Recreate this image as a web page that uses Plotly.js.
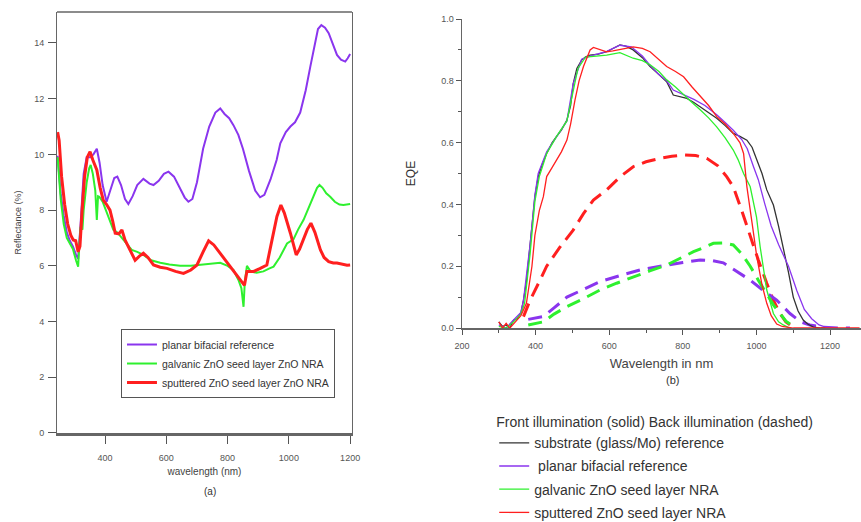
<!DOCTYPE html>
<html>
<head>
<meta charset="utf-8">
<script src="https://cdn.plot.ly/plotly-3.0.1.min.js"></script>
<style>html,body{margin:0;padding:0;background:#fff}#chart{width:861px;height:522px}</style>
</head>
<body>
<div id="chart"></div>
<script>
// ---- Panel (a): Reflectance ----
const reflPlanarX = [245,255,265,275,285,295,305,312,320,330,340,352,362,373,382,392,405,418,430,440,452,465,476,490,505,525,545,558,575,592,607,625,645,660,672,685,700,720,740,760,776,790,805,819,835,850,870,890,906,920,940,960,972,990,1005,1020,1037,1055,1070,1085,1095,1106,1118,1130,1145,1157,1170,1184,1192,1200];
const reflPlanarY = [9.95,8.6,7.8,7.2,6.9,6.7,6.4,6.25,7.5,9.3,9.9,9.9,10.0,10.2,9.7,8.9,8.3,8.7,9.15,9.2,8.9,8.4,8.22,8.5,8.9,9.12,8.95,8.9,9.05,9.3,9.38,9.2,8.8,8.45,8.3,8.4,9.0,10.2,11.0,11.5,11.65,11.45,11.3,11.05,10.7,10.2,9.4,8.7,8.46,8.55,9.1,9.8,10.4,10.8,11.0,11.15,11.5,12.3,13.15,14.0,14.5,14.64,14.55,14.35,13.9,13.57,13.4,13.33,13.45,13.6];

const reflGalvX = [245,255,265,275,285,295,305,312,316,320,326,330,340,348,353,360,368,373,377,381,392,405,418,427,440,455,470,487,505,525,550,580,610,645,680,710,740,776,800,819,835,845,852,856,863,875,895,917,935,950,970,994,1015,1030,1048,1065,1080,1092,1100,1110,1122,1135,1150,1165,1178,1190,1200];
const reflGalvY = [9.9,8.4,7.5,7.0,6.8,6.6,6.2,5.97,6.8,7.4,7.3,8.0,9.0,9.5,9.62,9.3,8.7,7.65,8.5,8.48,8.3,7.9,7.5,7.29,7.2,7.0,6.8,6.57,6.5,6.39,6.2,6.11,6.05,6.0,6.0,6.03,6.05,6.11,6.0,5.85,5.5,5.2,4.53,5.4,6.0,5.8,5.75,5.8,5.9,5.97,6.3,6.8,6.95,7.3,7.65,8.1,8.5,8.8,8.9,8.8,8.6,8.48,8.3,8.2,8.18,8.2,8.22];

const reflSputX = [245,250,258,268,278,288,296,304,312,318,325,333,342,351,360,373,384,394,405,416,425,433,445,455,465,482,498,512,525,540,558,580,602,630,656,680,700,720,738,755,776,800,819,835,847,855,863,885,905,928,945,961,974,985,1005,1015,1024,1035,1048,1060,1072,1085,1103,1115,1130,1145,1157,1175,1190,1200];
const reflSputY = [10.8,10.5,9.2,8.2,7.5,7.1,6.93,6.9,6.5,6.7,8.0,9.2,9.9,10.1,9.8,9.44,8.8,8.36,8.2,8.0,7.6,7.17,7.15,7.29,6.93,6.57,6.2,6.35,6.45,6.3,6.03,5.95,5.91,5.8,5.73,5.85,6.03,6.5,6.9,6.75,6.45,6.1,5.85,5.6,5.43,5.3,5.8,5.8,5.9,6.03,6.93,7.77,8.18,7.9,7.17,6.7,6.39,6.6,6.93,7.3,7.53,7.2,6.57,6.3,6.15,6.1,6.1,6.05,6.02,6.03];

const reflNames = ['planar bifacial reference','galvanic ZnO seed layer ZnO NRA','sputtered ZnO seed layer ZnO NRA'];

// ---- Panel (b): EQE ----
const eqeSubX = [300,310,320,330,340,350,360,367,375,385,398,407,418,430,445,457,470,485,495,502,512,525,536,548,570,593,610,629,645,665,690,711,735,756,774,790,811,830,847,870,892,915,937,955,974,988,1001,1015,1028,1046,1060,1073,1087,1100,1113,1127,1140,1155,1175,1200];
const eqeSubY = [0.02,0.005,0.01,0.0,0.026,0.03,0.05,0.09,0.15,0.26,0.425,0.49,0.53,0.565,0.60,0.62,0.64,0.673,0.72,0.79,0.84,0.867,0.878,0.883,0.886,0.894,0.905,0.916,0.912,0.9,0.875,0.846,0.82,0.797,0.754,0.75,0.743,0.73,0.716,0.70,0.679,0.655,0.63,0.62,0.608,0.585,0.544,0.5,0.447,0.398,0.33,0.263,0.18,0.10,0.055,0.026,0.012,0.003,0.0,0.0];

const eqePlanarX = [300,320,340,360,367,385,398,407,430,457,485,502,525,548,593,629,660,690,711,735,756,774,800,830,860,892,915,937,960,975,992,1005,1023,1040,1060,1087,1110,1130,1150,1170,1190,1210];
const eqePlanarY = [0.01,0.0,0.026,0.05,0.09,0.27,0.43,0.5,0.57,0.62,0.67,0.79,0.87,0.88,0.895,0.915,0.91,0.88,0.85,0.82,0.8,0.77,0.755,0.74,0.72,0.69,0.665,0.64,0.61,0.58,0.522,0.48,0.40,0.33,0.27,0.2,0.12,0.06,0.03,0.01,0.002,0.0];

const eqeGalvX = [300,320,340,360,370,385,398,410,430,457,485,500,515,536,560,593,629,665,690,711,735,756,780,802,825,847,870,892,915,937,950,965,983,1000,1010,1028,1046,1060,1073,1090];
const eqeGalvY = [0.005,0.0,0.02,0.045,0.08,0.24,0.41,0.49,0.565,0.62,0.67,0.75,0.84,0.877,0.88,0.883,0.891,0.873,0.865,0.852,0.83,0.803,0.78,0.754,0.73,0.706,0.68,0.651,0.615,0.576,0.545,0.5,0.457,0.36,0.263,0.123,0.047,0.02,0.01,0.0];

const eqeSputX = [300,310,320,330,345,360,375,390,398,410,421,430,445,457,470,485,495,507,518,530,540,548,557,566,580,593,610,629,645,665,690,711,735,756,780,802,825,847,870,892,915,937,955,965,974,988,1001,1015,1028,1040,1055,1070,1100,1150,1200,1250,1280];
const eqeSputY = [0.02,0.0,0.015,0.0,0.02,0.04,0.08,0.2,0.3,0.38,0.425,0.49,0.52,0.544,0.57,0.608,0.66,0.738,0.8,0.846,0.88,0.9,0.908,0.905,0.898,0.894,0.897,0.9,0.905,0.91,0.905,0.894,0.87,0.846,0.83,0.813,0.78,0.749,0.72,0.684,0.66,0.63,0.6,0.565,0.457,0.34,0.23,0.14,0.08,0.04,0.013,0.005,0.0,0.0,0.0,0.0,0.0];

const backSputX = [367,385,410,430,465,502,530,557,593,630,665,700,738,770,802,835,865,895,919,937,960,983,1005,1028,1046,1064,1080,1091];
const backSputY = [0.037,0.09,0.15,0.2,0.26,0.317,0.37,0.414,0.447,0.49,0.522,0.538,0.549,0.556,0.56,0.558,0.549,0.525,0.49,0.457,0.38,0.295,0.22,0.145,0.09,0.047,0.02,0.01];

const backPlanarX = [380,421,450,485,530,575,630,684,720,756,800,847,880,910,945,983,1020,1055,1091,1120,1145,1180,1220,1254];
const backPlanarY = [0.028,0.037,0.065,0.10,0.125,0.15,0.17,0.188,0.196,0.204,0.212,0.22,0.218,0.211,0.185,0.155,0.12,0.09,0.047,0.02,0.01,0.003,0.0,0.0];

const backGalvX = [380,421,450,485,530,575,620,665,710,756,790,829,860,883,910,937,960,983,1005,1028,1046,1064,1080,1091];
const backGalvY = [0.01,0.02,0.045,0.069,0.095,0.123,0.145,0.166,0.185,0.204,0.225,0.247,0.262,0.274,0.275,0.269,0.24,0.2,0.155,0.112,0.075,0.047,0.022,0.013];

const eqeNames = ['substrate (glass/Mo) reference',' planar bifacial reference','galvanic ZnO seed layer NRA','sputtered ZnO seed layer NRA'];

const C_PURPLE = '#8a35ee', C_GREEN = '#2ef02e', C_RED = '#ff1f1f', C_BLACK = '#333333';
const FONT = 'Liberation Sans, Arial, sans-serif';
const dashPat = '14px,8px';

const traces = [
  {x: reflPlanarX, y: reflPlanarY, name: reflNames[0], xaxis:'x', yaxis:'y', mode:'lines', line:{color:C_PURPLE, width:2}, legend:'legend', legendgroup:'a'},
  {x: reflGalvX, y: reflGalvY, name: reflNames[1], xaxis:'x', yaxis:'y', mode:'lines', line:{color:C_GREEN, width:2}, legend:'legend', legendgroup:'b'},
  {x: reflSputX, y: reflSputY, name: reflNames[2], xaxis:'x', yaxis:'y', mode:'lines', line:{color:C_RED, width:3}, legend:'legend', legendgroup:'b'},

  {x: backSputX, y: backSputY, xaxis:'x2', yaxis:'y2', mode:'lines', line:{color:C_RED, width:3, dash:dashPat}, showlegend:false},
  {x: backPlanarX, y: backPlanarY, xaxis:'x2', yaxis:'y2', mode:'lines', line:{color:C_PURPLE, width:3, dash:dashPat}, showlegend:false},
  {x: backGalvX, y: backGalvY, xaxis:'x2', yaxis:'y2', mode:'lines', line:{color:C_GREEN, width:3, dash:dashPat}, showlegend:false},

  {x: eqeSubX, y: eqeSubY, name: eqeNames[0], xaxis:'x2', yaxis:'y2', mode:'lines', line:{color:C_BLACK, width:1.3}, legend:'legend2', legendgroup:'s1'},
  {x: eqePlanarX, y: eqePlanarY, name: eqeNames[1], xaxis:'x2', yaxis:'y2', mode:'lines', line:{color:C_PURPLE, width:1.3}, legend:'legend2', legendgroup:'s2'},
  {x: eqeGalvX, y: eqeGalvY, name: eqeNames[2], xaxis:'x2', yaxis:'y2', mode:'lines', line:{color:C_GREEN, width:1.3}, legend:'legend2', legendgroup:'s3'},
  {x: eqeSputX, y: eqeSputY, name: eqeNames[3], xaxis:'x2', yaxis:'y2', mode:'lines', line:{color:C_RED, width:1.3}, legend:'legend2', legendgroup:'s4'}
];

const tickFont = {family: FONT, size: 9, color: '#555'};

const layout = {
  width: 861, height: 522,
  margin: {l:0, r:0, t:0, b:0, autoexpand: false},
  paper_bgcolor: '#fff', plot_bgcolor: '#fff',
  font: {family: FONT, color: '#333'},
  xaxis: {
    domain: [0.0662, 0.4088], range: [243, 1206], anchor: 'y',
    tickvals: [400,600,800,1000,1200], ticks: 'outside', ticklen: 8, tickcolor: '#555',
    ticklabelstandoff: 6,
    showgrid: false, zeroline: false, showline: true, mirror: false, linecolor: '#666', linewidth: 3,
    tickfont: tickFont,
    title: {text: 'wavelength (nm)', font: {family: FONT, size: 10, color: '#444'}, standoff: 7}
  },
  yaxis: {
    domain: [0.1705, 0.977], range: [0, 15.11], anchor: 'x',
    tickvals: [0,2,4,6,8,10,12,14], ticks: 'outside', ticklen: 8, tickcolor: '#555',
    ticklabelstandoff: 2,
    showgrid: false, zeroline: false, showline: true, mirror: true, linecolor: '#666', linewidth: 1,
    tickfont: tickFont,
    title: {text: 'Reflectance (%)', font: {family: FONT, size: 9, color: '#444'}, standoff: 11}
  },
  xaxis2: {
    domain: [0.5366, 1], range: [200, 1284], anchor: 'y2',
    tickvals: [200,400,600,800,1000,1200], ticks: 'outside', ticklen: 5, tickcolor: '#555',
    ticklabelstandoff: 3,
    minor: {dtick: 100, ticks: 'outside', ticklen: 3, tickcolor: '#555'},
    showgrid: false, zeroline: false, showline: true, linecolor: '#666', linewidth: 2,
    tickfont: tickFont,
    title: {text: 'Wavelength in nm', font: {family: FONT, size: 13, color: '#444'}, standoff: 9}
  },
  yaxis2: {
    domain: [0.3716, 0.9636], range: [0, 1], anchor: 'x2',
    tickvals: [0,0.2,0.4,0.6,0.8,1.0], tickformat: '.1f', ticks: 'outside', ticklen: 5, tickcolor: '#555',
    minor: {dtick: 0.1, ticks: 'outside', ticklen: 3, tickcolor: '#555'},
    showgrid: false, zeroline: false, showline: true, mirror: true, linecolor: '#666', linewidth: 1.5,
    tickfont: tickFont,
    title: {text: 'EQE', font: {family: FONT, size: 12, color: '#333'}, standoff: 23}
  },
  shapes: [
    {type: 'line', xref: 'x domain', yref: 'y domain', x0: 0, x1: 1, y0: 1, y1: 1, line: {color: '#666', width: 1.5}}
  ],
  legend: {
    x: 0.1405, y: 0.3697, xanchor: 'left', yanchor: 'top',
    bgcolor: '#fff', bordercolor: '#555', borderwidth: 1,
    font: {family: FONT, size: 10.5, color: '#333'},
    traceorder: 'grouped', tracegroupgap: 0, itemwidth: 30
  },
  legend2: {
    x: 0.574, y: 1 - 409/522, xanchor: 'left', yanchor: 'top',
    bgcolor: 'rgba(0,0,0,0)', borderwidth: 0,
    font: {family: FONT, size: 14, color: '#333'},
    title: {text: 'Front illumination (solid) Back illumination (dashed)', font: {family: FONT, size: 14, color: '#333'}},
    traceorder: 'grouped', tracegroupgap: 2, itemwidth: 30
  },
  annotations: [
    {text: '(a)', xref: 'paper', yref: 'paper', x: 210/861, y: 1-491/522, yanchor: 'middle', xanchor: 'center', showarrow: false, font: {family: FONT, size: 10, color: '#333'}},
    {text: '(b)', xref: 'paper', yref: 'paper', x: 672/861, y: 1-380/522, yanchor: 'middle', xanchor: 'center', showarrow: false, font: {family: FONT, size: 11, color: '#333'}}
  ],
  showlegend: true
};

Plotly.newPlot('chart', traces, layout, {displayModeBar: false, staticPlot: true});
</script>
</body>
</html>
